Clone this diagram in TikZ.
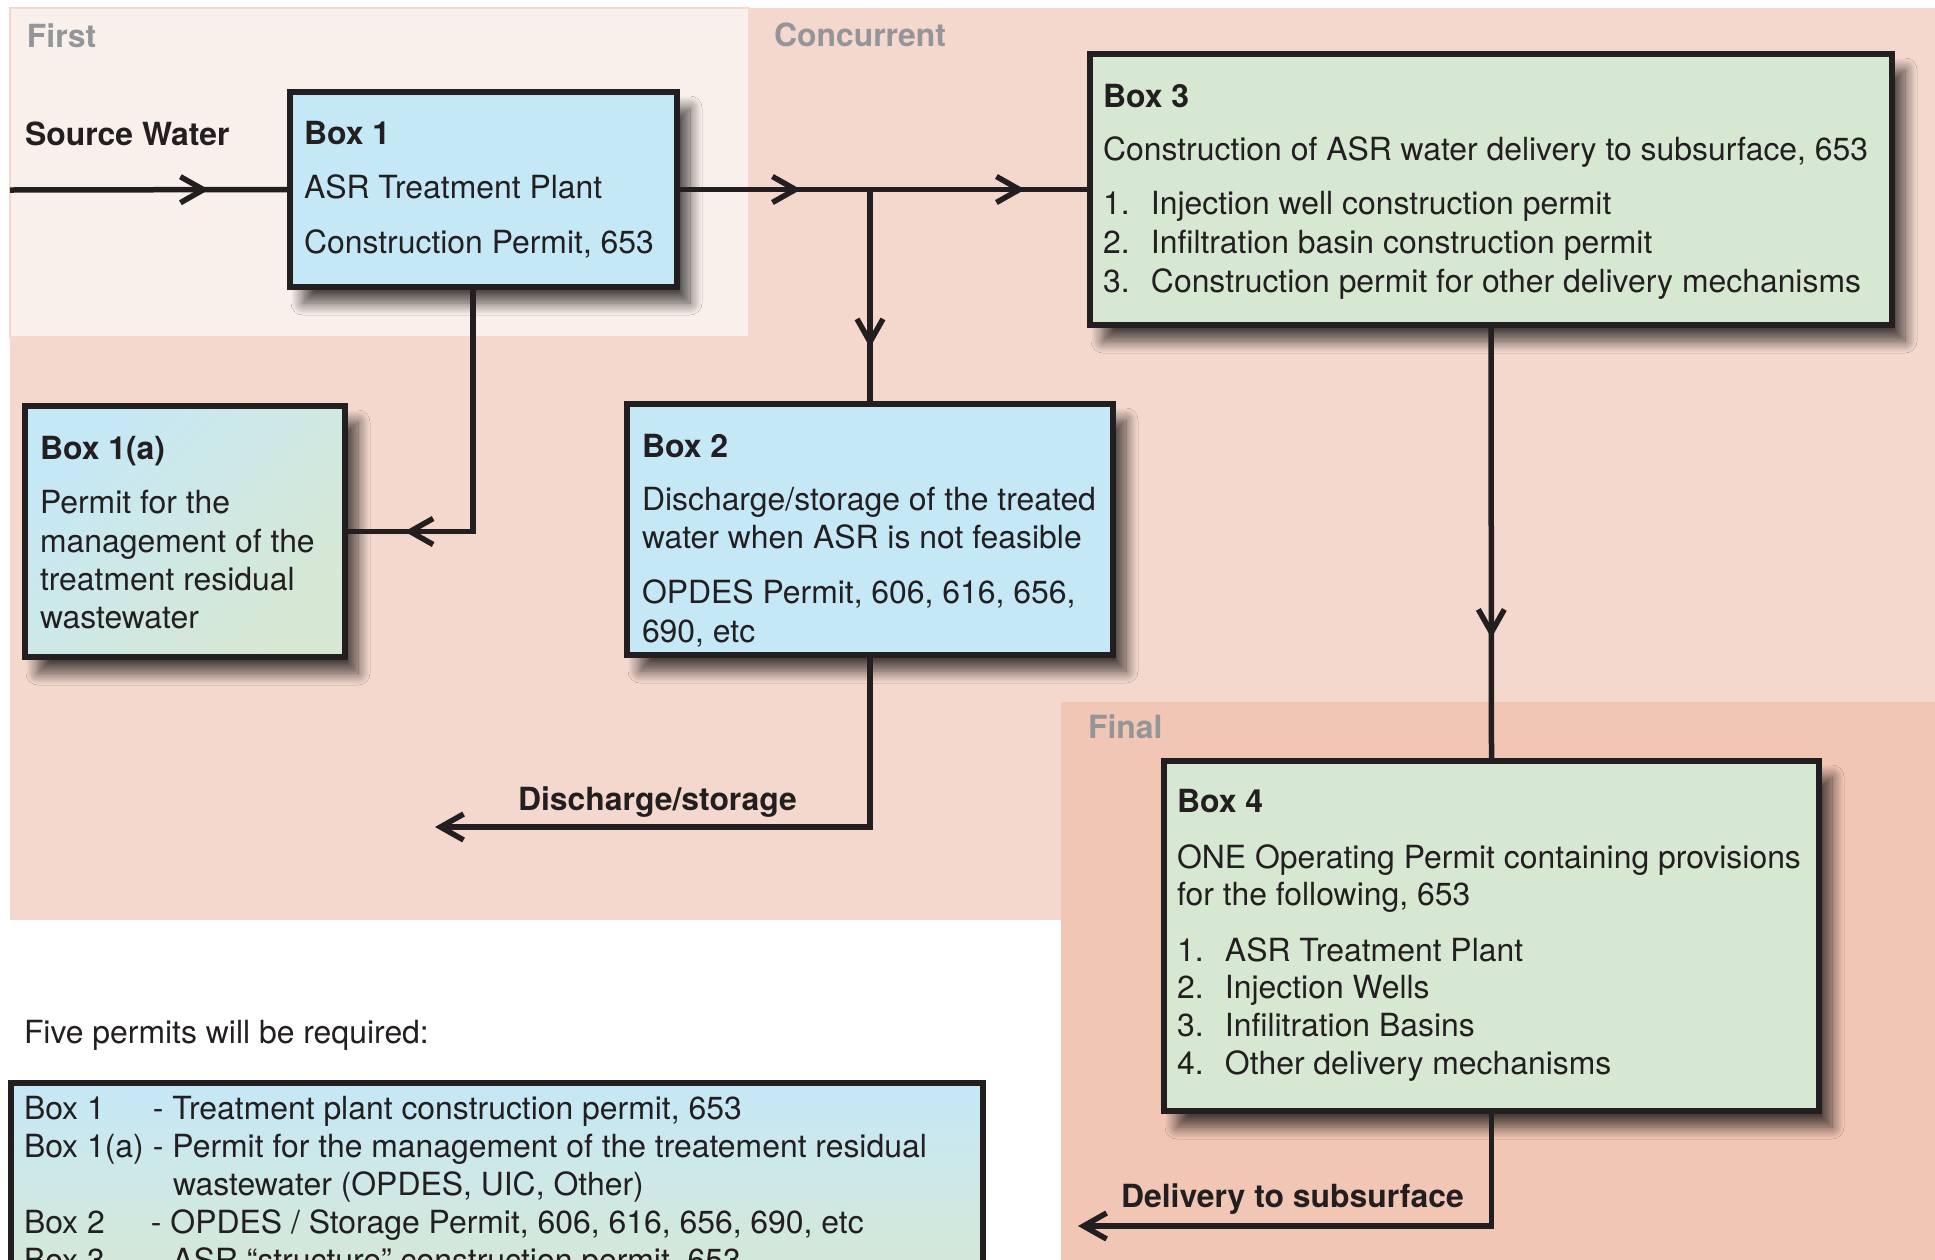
\documentclass[tikz,border=0pt]{standalone}
\usepackage{fontspec}
\setmainfont{TeX Gyre Heros}
\usetikzlibrary{arrows.meta,decorations.markings,shadows.blur}
\definecolor{boxblue}{RGB}{197,232,247}
\definecolor{boxgreen}{RGB}{215,232,210}
\definecolor{firstbg}{RGB}{250,240,235}
\definecolor{concbg}{RGB}{245,216,205}
\definecolor{finalbg}{RGB}{242,198,181}
\definecolor{stagegray}{RGB}{147,149,152}
\definecolor{ink}{RGB}{35,31,32}
\newcommand{\bodyfont}{\fontsize{31.9pt}{38pt}\selectfont}
\begin{document}
\begin{tikzpicture}[x=1pt,y=-1pt,
  mybarb/.tip={Straight Barb[length=23pt,width=26pt]},
  every node/.style={inner sep=0pt,outer sep=0pt},
  txt/.style={anchor=base west,font=\bodyfont,text=ink},
  btxt/.style={anchor=base west,font=\bodyfont\bfseries,text=ink},
  stage/.style={anchor=base west,font=\bodyfont\bfseries,text=stagegray},
  box/.style={draw=ink,line width=5.5pt,rectangle,
    blur shadow={shadow xshift=13pt,shadow yshift=-16pt,shadow blur radius=12pt,shadow blur steps=16,shadow opacity=70}},
  conn/.style={draw=ink,line width=5.5pt},
  midarrow/.style={postaction={decorate},decoration={markings,mark=at position #1 with {\arrow{mybarb}}}},
  twoarrows/.style 2 args={postaction={decorate},decoration={markings,
     mark=at position #1 with {\arrow{mybarb}},mark=at position #2 with {\arrow{mybarb}}}}
]
\useasboundingbox (0,0) rectangle (1935,1259);
% stage regions
\fill[white] (0,0) rectangle (1935,1259);
\fill[concbg] (10,8) rectangle (1940,920);
\fill[finalbg] (1061,702) rectangle (1940,1270);
\filldraw[fill=firstbg,draw=concbg,line width=1.5pt] (10,8) rectangle (749,337);
\node[stage] (lfirst) at (27,47) {First};
\node[stage] (lconc) at (774,46) {Concurrent};
\node[stage] (lfinal) at (1088,738) {Final};

% boxes
\node[box,fill=boxblue,minimum width=387pt,minimum height=195pt] (box1) at (483.5,189.5) {};
\node[box,top color=boxblue,bottom color=boxgreen,shading angle=45,minimum width=320pt,minimum height=251pt] (box1a) at (185,531.5) {};
\node[box,fill=boxblue,minimum width=486pt,minimum height=251pt] (box2) at (870,529.5) {};
\node[box,fill=boxgreen,minimum width=802pt,minimum height=271pt] (box3) at (1491,189.5) {};
\node[box,fill=boxgreen,minimum width=655pt,minimum height=350pt] (box4) at (1491.5,936) {};

% Box 1 text
\node[btxt] (srcw) at (25,145) {Source Water};
\node[btxt] (b1t) at (304,144) {Box 1};
\node[txt] (b1l1) at (304,198.5) {ASR Treatment Plant};
\node[txt] (b1l2) at (304,253) {Construction Permit, 653};

% Box 1(a) text
\node[btxt] (b1at) at (40,459) {Box 1(a)};
\node[txt] (b1al1) at (40,513) {Permit for the};
\node[txt] (b1al2) at (40,552) {management of the};
\node[txt] (b1al3) at (40,590) {treatment residual};
\node[txt] (b1al4) at (40,628) {wastewater};

% Box 2 text
\node[btxt] (b2t) at (642,457) {Box 2};
\node[txt] (b2l1) at (642,510) {Discharge/storage of the treated};
\node[txt] (b2l2) at (642,548) {water when ASR is not feasible};
\node[txt] (b2l3) at (642,603) {OPDES Permit, 606, 616, 656,};
\node[txt] (b2l4) at (642,642) {690, etc};

% Box 3 text
\node[btxt] (b3t) at (1103,107) {Box 3};
\node[txt] (b3l1) at (1103,160) {Construction of ASR water delivery to subsurface, 653};
\node[txt] (b3l2) at (1103,214) {\makebox[48pt][l]{1.}Injection well construction permit};
\node[txt] (b3l3) at (1103,253) {\makebox[48pt][l]{2.}Infiltration basin construction permit};
\node[txt] (b3l4) at (1103,292) {\makebox[48pt][l]{3.}Construction permit for other delivery mechanisms};

% Box 4 text
\node[btxt] (b4t) at (1177,812) {Box 4};
\node[txt] (b4l1) at (1177,868) {ONE Operating Permit containing provisions};
\node[txt] (b4l2) at (1177,905) {for the following, 653};
\node[txt] (b4l3) at (1177,961) {\makebox[48pt][l]{1.}ASR Treatment Plant};
\node[txt] (b4l4) at (1177,998) {\makebox[48pt][l]{2.}Injection Wells};
\node[txt] (b4l5) at (1177,1036) {\makebox[48pt][l]{3.}Infilitration Basins};
\node[txt] (b4l6) at (1177,1074) {\makebox[48pt][l]{4.}Other delivery mechanisms};

% connectors
\coordinate (srcin) at (10,190);
\coordinate (j1) at (870,189.5);
\coordinate (c1a) at (473,530);
\coordinate (dischend) at (435,827);
\coordinate (delend) at (1078,1226);

\draw[conn,midarrow=199pt] (srcin) -- (box1.west);
\draw[conn,twoarrows={124pt}{348pt}] (box1.east) -- (box3.west);
\draw[conn,midarrow=158pt] (j1) -- (box2.north);
\draw[conn,midarrow=313pt] (box1.south -| c1a) |- (box1a.east);
\draw[conn,-{mybarb}] (box2.south) |- (dischend);
\draw[conn,midarrow=313pt] (box3.south) -- (box4.north);
\draw[conn,-{mybarb}] (box4.south) |- (delend);

\node[btxt] (ldisch) at (518,810) {Discharge/storage};
\node[btxt] (ldeliv) at (1121,1207) {Delivery to subsurface};

% legend
\node[txt] (five) at (24,1043) {Five permits will be required:};
\node[draw=ink,line width=5.5pt,top color=boxblue,bottom color=boxgreen,minimum width=972pt,minimum height=214pt,anchor=north west] (legend) at (11,1083) {};
\node[txt] (lg1) at (24,1119) {\makebox[129pt][l]{Box 1}- Treatment plant construction permit, 653};
\node[txt] (lg2) at (24,1157) {\makebox[129pt][l]{Box 1(a)}- Permit for the management of the treatement residual};
\node[txt] (lg3) at (173,1195) {wastewater (OPDES, UIC, Other)};
\node[txt] (lg4) at (24,1233) {\makebox[127pt][l]{Box 2}- OPDES / Storage Permit, 606, 616, 656, 690, etc};
\node[txt] (lg5) at (24,1271) {\makebox[129pt][l]{Box 3}- ASR “structure” construction permit, 653};
\end{tikzpicture}
\end{document}
